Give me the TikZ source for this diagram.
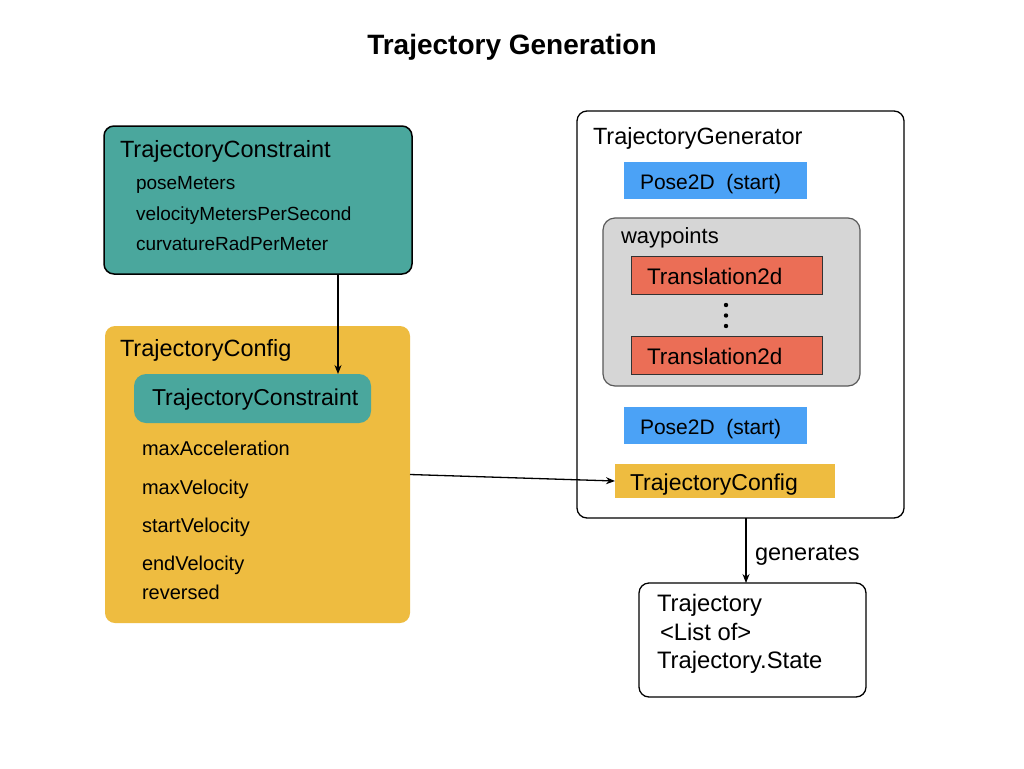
\documentclass[tikz,border=0pt]{standalone}
\usepackage{fontspec}
\setmainfont{Liberation Sans}
\usetikzlibrary{arrows.meta}
\definecolor{teal1}{HTML}{4AA79D}
\definecolor{yell1}{HTML}{EEBC40}
\definecolor{blue1}{HTML}{4BA2F6}
\definecolor{red1}{HTML}{EB6E56}
\definecolor{gray1}{HTML}{D6D6D6}
\newcommand{\fs}[1]{\fontsize{#1}{#1}\selectfont}
\tikzset{
  box/.style={anchor=north west, inner sep=0pt, outer sep=0pt, rounded corners=10pt},
  flat/.style={anchor=north west, inner sep=0pt, outer sep=0pt},
  txt/.style={anchor=base west, inner sep=0pt, outer sep=0pt},
  head/.style={txt, font=\fs{23.5}},
  item/.style={txt, font=\fs{19}},
  citem/.style={txt, font=\fs{20}},
  lbl/.style={txt, font=\fs{22.5}},
  arr/.style={line width=1.3pt, -{Stealth[length=9pt,width=7pt]}},
}
\begin{document}
\begin{tikzpicture}[x=1pt,y=-1pt]
\useasboundingbox[fill=white] (0,0) rectangle (1024,768);
\node[font=\bfseries\fs{28}, inner sep=0pt] (title) at (512,47) {Trajectory Generation};

% TrajectoryConstraint
\node[box, draw=black, line width=1.5pt, fill=teal1, minimum width=308pt, minimum height=148pt] (tc) at (104,126) {};
\node[head] (tct) at (120,157) {TrajectoryConstraint};
\node[item] (tc1) at (136,189) {poseMeters};
\node[item] (tc2) at (136,220) {velocityMetersPerSecond};
\node[item] (tc3) at (136,250.5) {curvatureRadPerMeter};

% TrajectoryConfig
\node[box, fill=yell1, minimum width=305pt, minimum height=297pt] (cfg) at (105,326) {};
\node[head] (cfgt) at (120,356) {TrajectoryConfig};
\node[box, rounded corners=12pt, fill=teal1, minimum width=237pt, minimum height=49pt] (tcin) at (134,374) {};
\node[lbl, font=\fs{23}] (tcint) at (152,405) {TrajectoryConstraint};
\node[citem] (c1) at (142,455) {maxAcceleration};
\node[citem] (c2) at (142,494) {maxVelocity};
\node[citem] (c3) at (142,532) {startVelocity};
\node[citem] (c4) at (142,570) {endVelocity};
\node[citem] (c5) at (142,599) {reversed};

\coordinate (ax) at (338,0);
\draw[arr] (tc.south -| ax) -- (tcin.north -| ax);

% TrajectoryGenerator
\node[box, draw=black, line width=1.3pt, fill=white, minimum width=327pt, minimum height=407pt] (gen) at (577,111) {};
\node[head] (gent) at (593,144) {TrajectoryGenerator};
\node[flat, fill=blue1, minimum width=183pt, minimum height=37pt] (p1) at (624,162) {};
\node[lbl, font=\fs{21}] (p1t) at (640,189) {Pose2D\ \ (start)};
\node[box, rounded corners=12pt, draw=black!65, line width=1.2pt, fill=gray1, minimum width=257pt, minimum height=168pt] (wp) at (603,218) {};
\node[lbl, font=\fs{22}] (wpt) at (621,243) {waypoints};
\node[flat, draw=black!80, line width=1pt, fill=red1, minimum width=191pt, minimum height=38pt] (t1) at (631,256) {};
\node[lbl] (t1t) at (647,284) {Translation2d};
\node[flat, draw=black!80, line width=1pt, fill=red1, minimum width=191pt, minimum height=38pt] (t2) at (631,336) {};
\node[lbl] (t2t) at (647,364) {Translation2d};
\fill (726,305) circle (2.2pt) (726,315.5) circle (2.2pt) (726,326) circle (2.2pt);
\node[flat, fill=blue1, minimum width=183pt, minimum height=37pt] (p2) at (624,407) {};
\node[lbl, font=\fs{21}] (p2t) at (640,434) {Pose2D\ \ (start)};
\node[flat, fill=yell1, minimum width=220pt, minimum height=34pt] (tcfg) at (615,464) {};
\node[lbl, font=\fs{23}] (tcfgt) at (630,490) {TrajectoryConfig};

\draw[arr] (cfg.east) -- (tcfg.west);

% Trajectory
\node[box, draw=black, line width=1.3pt, fill=white, minimum width=227pt, minimum height=114pt] (traj) at (639,583) {};
\node[lbl, font=\fs{23.8}] (tr1) at (657,611) {Trajectory};
\node[lbl, font=\fs{23.8}] (tr2) at (660,640) {<List of>};
\node[lbl, font=\fs{23.8}] (tr3) at (657,668) {Trajectory.State};

\coordinate (gx) at (746,0);
\draw[arr] (gen.south -| gx) -- (traj.north -| gx);
\node[lbl, font=\fs{23.5}] (gtxt) at (755,560) {generates};
\end{tikzpicture}
\end{document}
